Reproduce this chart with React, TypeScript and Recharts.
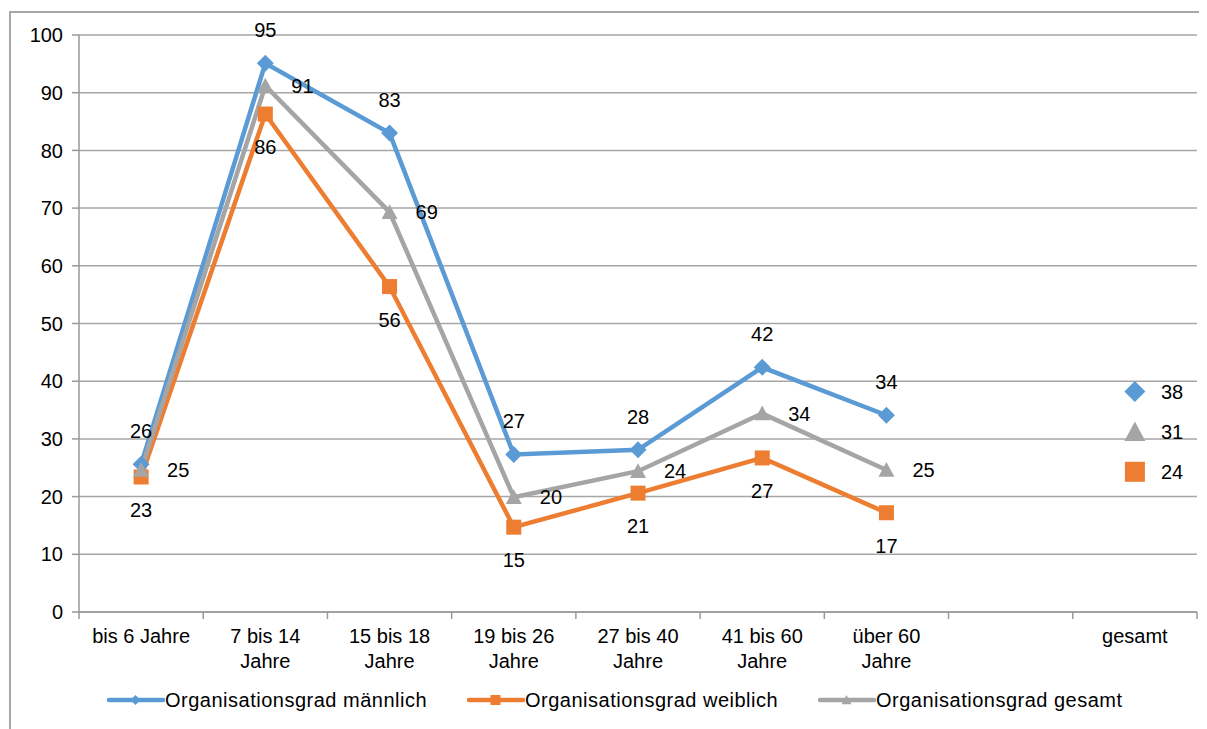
import React from "react";
import { CartesianGrid, Line, LineChart, XAxis, YAxis } from "recharts";

const categories = [
  "bis 6 Jahre",
  "7 bis 14 Jahre",
  "15 bis 18 Jahre",
  "19 bis 26 Jahre",
  "27 bis 40 Jahre",
  "41 bis 60 Jahre",
  "über 60 Jahre",
  "",
  "gesamt",
];
const categoryLines = [
  ["bis 6 Jahre"],
  ["7 bis 14", "Jahre"],
  ["15 bis 18", "Jahre"],
  ["19 bis 26", "Jahre"],
  ["27 bis 40", "Jahre"],
  ["41 bis 60", "Jahre"],
  ["über 60", "Jahre"],
  [],
  ["gesamt"],
];
const maennlich = [25.6, 95.1, 83.0, 27.3, 28.1, 42.4, 34.1, null, 38.2];
const weiblich = [23.4, 86.3, 56.4, 14.7, 20.6, 26.7, 17.2, null, 24.3];
const gesamt = [24.6, 91.2, 69.3, 19.9, 24.4, 34.4, 24.6, null, 31.2];
const yTicks = [0, 10, 20, 30, 40, 50, 60, 70, 80, 90, 100];

const BLUE = "#5B9BD5";
const ORANGE = "#ED7D31";
const GRAY = "#A5A5A5";
const FONT = "'Liberation Sans', Arial, sans-serif";
const FS = 20;

const data = categories.map((c, i) => ({
  category: c,
  m: maennlich[i],
  w: weiblich[i],
  g: gesamt[i],
}));

const lastIndex = categories.length - 1;
const plotWidth = 1199 - 71 - 10;
const halfBand = plotWidth / categories.length / 2;

type Shape = "diamond" | "square" | "triangle";

const marker = (shape: Shape, cx: number, cy: number, s: number, color: string, key?: any) => {
  if (shape === "diamond") {
    return (
      <path key={key} d={`M${cx},${cy - s} L${cx + s},${cy} L${cx},${cy + s} L${cx - s},${cy} Z`} fill={color} />
    );
  }
  if (shape === "square") {
    return <rect key={key} x={cx - s} y={cy - s} width={s * 2} height={s * 2} fill={color} />;
  }
  return (
    <path key={key} d={`M${cx},${cy - s} L${cx + s},${cy + s * 0.85} L${cx - s},${cy + s * 0.85} Z`} fill={color} />
  );
};

const makeDot = (shape: Shape, color: string, small: number, big: number) => (p: any) => {
  if (p.value == null || p.cx == null || p.cy == null) return <g key={p.key ?? p.index} />;
  const s = p.index === lastIndex ? big : small;
  return marker(shape, p.cx, p.cy, s, color, p.key ?? p.index);
};

// labels: above / below / right of the point; the separate "gesamt" column is labelled on the right
const makeLabel = (where: "top" | "bottom" | "right") => (p: any) => {
  if (p.value == null || p.x == null || p.y == null) return <g key={p.index} />;
  const txt = Math.round(Number(p.value));
  const pos = p.index === lastIndex ? "right" : where;
  let x = p.x;
  let y = p.y;
  let anchor: "middle" | "start" = "middle";
  if (pos === "top") y = p.y - 26;
  if (pos === "bottom") y = p.y + 26 + 14;
  if (pos === "right") {
    x = p.x + 26;
    y = p.y + 7;
    anchor = "start";
  }
  return (
    <text key={p.index} x={x} y={y} textAnchor={anchor} fontSize={FS} fill="#000" fontFamily={FONT}>
      {txt}
    </text>
  );
};

const CategoryTick = (props: any) => {
  const { x, y, index } = props;
  const lines: string[] = categoryLines[index] || [];
  return (
    <g>
      <line x1={x - halfBand} x2={x - halfBand} y1={y} y2={y + 7} stroke="#999" strokeWidth={1.5} />
      {index === lastIndex && (
        <line x1={x + halfBand} x2={x + halfBand} y1={y} y2={y + 7} stroke="#999" strokeWidth={1.5} />
      )}
      <text x={x} y={y} textAnchor="middle" fontSize={FS} fill="#000" fontFamily={FONT}>
        {lines.map((l, i) => (
          <tspan key={i} x={x} y={y + 31 + i * 25}>
            {l}
          </tspan>
        ))}
      </text>
    </g>
  );
};

const legendItems = [
  { name: "Organisationsgrad männlich", color: BLUE, shape: "diamond" as Shape, left: 99 },
  { name: "Organisationsgrad weiblich", color: ORANGE, shape: "square" as Shape, left: 459 },
  { name: "Organisationsgrad gesamt", color: GRAY, shape: "triangle" as Shape, left: 810 },
];

export default function App() {
  return (
    <div style={{ position: "relative", width: 1199, height: 721, overflow: "hidden", fontFamily: FONT }}>
      <div
        style={{
          position: "absolute",
          left: 1,
          top: 3,
          width: 1300,
          height: 800,
          borderLeft: "2px solid #a6a6a6",
          borderTop: "2px solid #a6a6a6",
        }}
      />
      <LineChart
        width={1199}
        height={721}
        data={data}
        margin={{ top: 27, right: 10, left: 0, bottom: 0 }}
        style={{ position: "absolute", left: 0, top: 0 }}
      >
        <CartesianGrid vertical={false} stroke="#a6a6a6" strokeWidth={1.5} />
        <XAxis
          dataKey="category"
          scale="band"
          height={117}
          interval={0}
          tickSize={0}
          tickMargin={0}
          tickLine={false}
          axisLine={{ stroke: "#999", strokeWidth: 1.5 }}
          tick={<CategoryTick />}
        />
        <YAxis
          width={71}
          domain={[0, 100]}
          ticks={yTicks}
          interval={0}
          tickSize={7}
          tickMargin={9}
          tickLine={{ stroke: "#999", strokeWidth: 1.5 }}
          axisLine={{ stroke: "#999", strokeWidth: 1.5 }}
          tick={{ fontSize: FS, fill: "#000", fontFamily: FONT }}
        />
        <Line
          dataKey="m"
          stroke={BLUE}
          strokeWidth={4.5}
          isAnimationActive={false}
          dot={makeDot("diamond", BLUE, 8.5, 10.5)}
          activeDot={false}
          label={makeLabel("top")}
        />
        <Line
          dataKey="w"
          stroke={ORANGE}
          strokeWidth={4.5}
          isAnimationActive={false}
          dot={makeDot("square", ORANGE, 7.5, 10)}
          activeDot={false}
          label={makeLabel("bottom")}
        />
        <Line
          dataKey="g"
          stroke={GRAY}
          strokeWidth={4.5}
          isAnimationActive={false}
          dot={makeDot("triangle", GRAY, 8, 10.5)}
          activeDot={false}
          label={makeLabel("right")}
        />
      </LineChart>
      {legendItems.map((it) => (
        <div
          key={it.name}
          style={{
            position: "absolute",
            left: it.left,
            top: 680,
            display: "flex",
            alignItems: "center",
            fontSize: FS,
            letterSpacing: 0.5,
            color: "#000",
            whiteSpace: "nowrap",
          }}
        >
          <svg width={58} height={24}>
            <line x1={2} x2={56} y1={12} y2={12} stroke={it.color} strokeWidth={4.5} strokeLinecap="round" />
            {marker(it.shape, 28.5, 12, 5, it.color)}
          </svg>
          <span>{it.name}</span>
        </div>
      ))}
    </div>
  );
}
